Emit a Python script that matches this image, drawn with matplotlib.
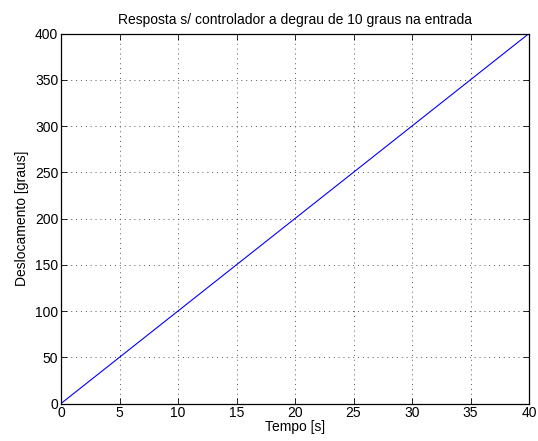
import matplotlib
matplotlib.use("Agg")
import matplotlib.pyplot as plt

plt.rcParams['font.family'] = ['Liberation Sans', 'DejaVu Sans']

tempo = [0, 40]
deslocamento = [0, 400]
xticks = [0, 5, 10, 15, 20, 25, 30, 35, 40]
yticks = [0, 50, 100, 150, 200, 250, 300, 350, 400]

fig = plt.figure(figsize=(5.38, 4.41), dpi=100)
ax = fig.add_axes([0.1134, 0.085, 0.8699, 0.839])
ax.plot(tempo, deslocamento, color='#0000ff', linewidth=0.8)
ax.set_xlim(0, 40)
ax.set_ylim(0, 400)
ax.set_xticks(xticks)
ax.set_yticks(yticks)
ax.grid(True, linestyle=(0, (1, 4)), color='#555555', linewidth=0.7)
ax.tick_params(direction='in', top=True, right=True, labelsize=10, length=4, width=0.6, pad=2)
for s in ax.spines.values():
    s.set_linewidth(0.9)
ax.set_title('Resposta s/ controlador a degrau de 10 graus na entrada', fontsize=10, pad=7)
ax.set_xlabel('Tempo [s]', fontsize=10, labelpad=0)
ax.set_ylabel('Deslocamento [graus]', fontsize=10, labelpad=4)
fig.savefig('out.png', dpi=100)
